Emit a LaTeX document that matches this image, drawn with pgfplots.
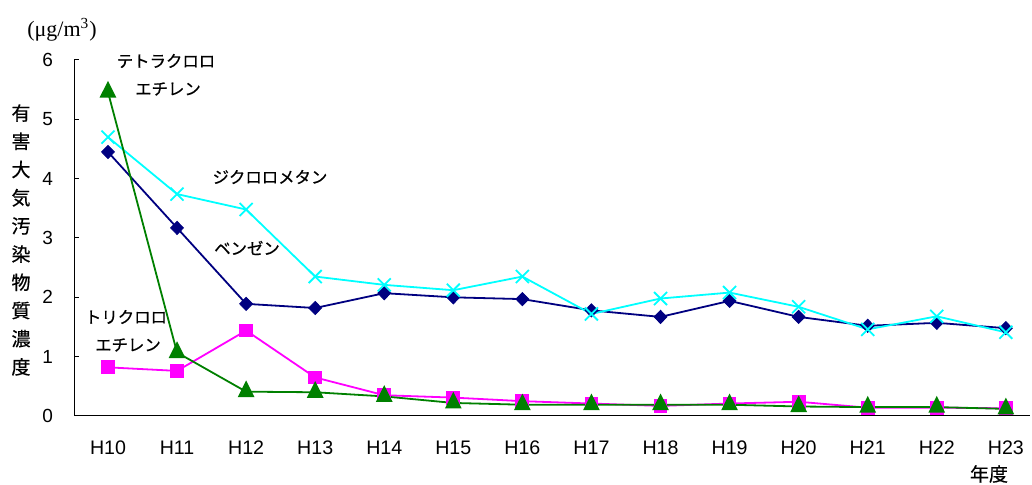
\documentclass[border=0pt]{standalone}
\usepackage{fontspec}
\setmainfont{Liberation Sans}
\newfontfamily\cjk[FakeBold=0.6]{Noto Sans CJK JP}
\newfontfamily\tnr{Liberation Serif}
\usepackage{pgfplots}
\pgfplotsset{compat=1.18}
\definecolor{navyc}{RGB}{0,0,128}
\definecolor{cyanc}{RGB}{0,255,255}
\definecolor{magc}{RGB}{255,0,255}
\definecolor{greenc}{RGB}{0,128,0}
\begin{document}
\begin{tikzpicture}
\useasboundingbox (-37pt,-34.5pt) rectangle (479pt,208pt);
\begin{axis}[
  at={(0,0)}, anchor=south west,
  scale only axis, width=478pt, height=178pt,
  xmin=-0.492, xmax=13.35, ymin=0, ymax=6,
  axis x line=bottom, axis y line=left,
  axis line style={-, line width=0.5pt, black},
  xtick={0,...,13},
  xticklabels={H10,H11,H12,H13,H14,H15,H16,H17,H18,H19,H20,H21,H22,H23},
  ytick={0,1,2,3,4,5,6},
  tick align=inside, major tick length=2.6pt,
  x tick style={draw=none},
  y tick style={black, line width=0.5pt},
  /pgf/number format/assume math mode=true,
  xticklabel style={font=\fontsize{9.8}{10}\selectfont, anchor=center, yshift=-16pt},
  yticklabel style={font=\fontsize{9.5}{10}\selectfont, xshift=-7pt},
  clip=false,
]
\addplot[navyc, line width=0.9pt, mark=diamond*, mark size=3.3pt, mark options={solid, fill=navyc, draw=navyc, line width=0.4pt, xscale=1.3}] table {
x y
0 4.45
1 3.17
2 1.89
3 1.82
4 2.07
5 2.00
6 1.97
7 1.78
8 1.67
9 1.94
10 1.67
11 1.52
12 1.57
13 1.48
};
\addplot[cyanc, line width=0.9pt, mark=x, mark size=4.6pt, mark options={solid, draw=cyanc, line width=0.9pt}] table {
x y
0 4.70
1 3.74
2 3.48
3 2.35
4 2.21
5 2.12
6 2.35
7 1.72
8 1.98
9 2.08
10 1.84
11 1.46
12 1.68
13 1.41
};
\addplot[magc, line width=0.9pt, mark=square*, mark size=3pt, mark options={solid, fill=magc, draw=magc}] table {
x y
0 0.82
1 0.76
2 1.44
3 0.65
4 0.35
5 0.31
6 0.25
7 0.21
8 0.17
9 0.21
10 0.24
11 0.14
12 0.14
13 0.13
};
\addplot[greenc, line width=0.9pt, mark=triangle*, mark size=4pt, mark options={solid, fill=greenc, draw=greenc, yscale=1.15}] table {
x y
0 5.46
1 1.07
2 0.41
3 0.40
4 0.33
5 0.22
6 0.19
7 0.19
8 0.19
9 0.19
10 0.16
11 0.15
12 0.15
13 0.12
};
\end{axis}
\node[font=\tnr\fontsize{11}{12}\selectfont] at (-6pt,193pt) {(μg/m\textsuperscript{3})};
\node[font=\cjk\fontsize{9.5}{14.1}\selectfont, align=center, inner sep=0pt] at (-26.5pt,88pt) {有\\害\\大\\気\\汚\\染\\物\\質\\濃\\度};
\node[font=\cjk\fontsize{8.2}{9}\selectfont] at (46pt,177.5pt) {テトラクロロ};
\node[font=\cjk\fontsize{8.2}{9}\selectfont] at (47pt,163.5pt) {エチレン};
\node[font=\cjk\fontsize{8.2}{9}\selectfont] at (98pt,119.5pt) {ジクロロメタン};
\node[font=\cjk\fontsize{8.2}{9}\selectfont] at (86.5pt,84pt) {ベンゼン};
\node[font=\cjk\fontsize{8.2}{9}\selectfont] at (26pt,49.5pt) {トリクロロ};
\node[font=\cjk\fontsize{8.2}{9}\selectfont] at (27pt,35.5pt) {エチレン};
\node[font=\cjk\fontsize{9.5}{10}\selectfont] at (457.5pt,-29pt) {年度};
\end{tikzpicture}
\end{document}
